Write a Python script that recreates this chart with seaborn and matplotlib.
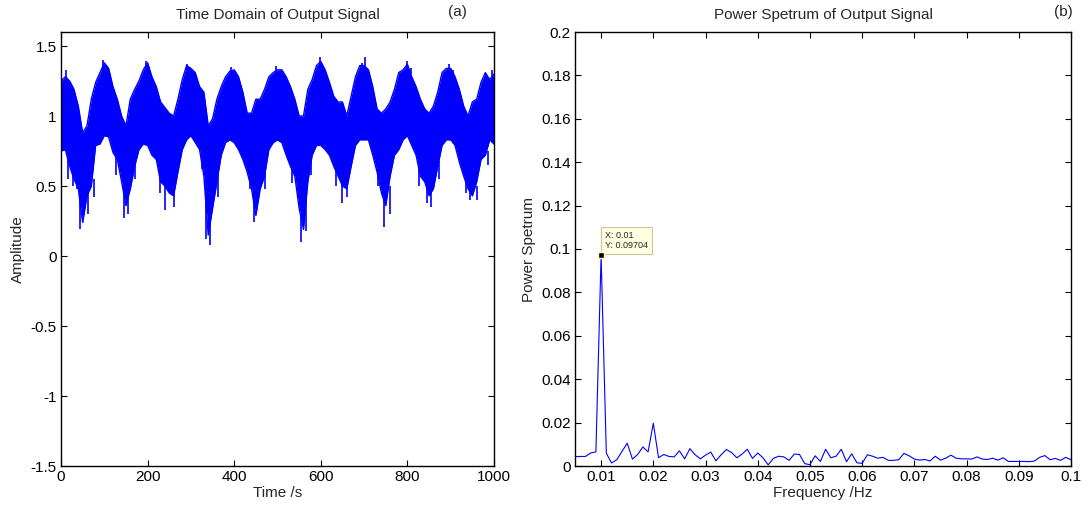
import numpy as np
import pandas as pd
import matplotlib
matplotlib.use("Agg")
import matplotlib.pyplot as plt
import seaborn as sns

# ── Data ───────────────────────────────────────────────────────
# (a) time signal: upper / lower envelope of the dense trace, every 10 s
time_s = np.arange(0, 1001, 10)
upper = [1.25, 1.28, 1.25, 1.19, 1.07, 0.88, 0.93, 1.12, 1.24, 1.31,
         1.38, 1.34, 1.21, 1.12, 1.00, 0.93, 1.12, 1.19, 1.25, 1.33,
         1.38, 1.28, 1.21, 1.10, 1.06, 1.02, 1.00, 1.12, 1.26, 1.36,
         1.34, 1.31, 1.21, 1.17, 0.93, 0.98, 1.12, 1.21, 1.28, 1.32,
         1.33, 1.28, 1.17, 1.02, 1.02, 1.12, 1.12, 1.19, 1.28, 1.31,
         1.33, 1.33, 1.28, 1.21, 1.12, 1.00, 1.00, 1.19, 1.26, 1.36,
         1.39, 1.33, 1.24, 1.14, 1.10, 1.10, 1.00, 1.14, 1.28, 1.36,
         1.36, 1.33, 1.21, 1.05, 1.02, 1.05, 1.10, 1.19, 1.31, 1.33,
         1.37, 1.28, 1.21, 1.12, 1.05, 1.02, 1.07, 1.17, 1.31, 1.34,
         1.34, 1.28, 1.19, 1.07, 1.00, 1.10, 1.12, 1.24, 1.31, 1.26, 1.30]
lower = [0.75, 0.76, 0.64, 0.55, 0.48, 0.24, 0.43, 0.50, 0.79, 0.80,
         0.86, 0.85, 0.74, 0.69, 0.53, 0.36, 0.48, 0.64, 0.76, 0.80,
         0.79, 0.72, 0.69, 0.53, 0.50, 0.45, 0.43, 0.60, 0.76, 0.83,
         0.86, 0.81, 0.76, 0.57, 0.15, 0.34, 0.53, 0.72, 0.81, 0.83,
         0.81, 0.76, 0.69, 0.60, 0.48, 0.29, 0.48, 0.57, 0.76, 0.81,
         0.83, 0.81, 0.72, 0.64, 0.57, 0.34, 0.19, 0.53, 0.72, 0.79,
         0.79, 0.76, 0.72, 0.64, 0.57, 0.50, 0.48, 0.64, 0.79, 0.83,
         0.83, 0.83, 0.72, 0.60, 0.45, 0.36, 0.57, 0.72, 0.76, 0.83,
         0.86, 0.79, 0.72, 0.57, 0.53, 0.43, 0.48, 0.64, 0.79, 0.83,
         0.83, 0.79, 0.67, 0.57, 0.48, 0.43, 0.53, 0.69, 0.72, 0.83, 0.80]

# isolated spikes sticking out of the band (time, start, tip)
spike_t = [0, 17, 27, 36, 45, 62, 76, 128, 145, 155, 172, 228, 240, 262,
           325, 335, 343, 362, 436, 445, 470, 534, 555, 565, 578, 636, 650,
           660, 733, 745, 760, 826, 845, 855, 872, 935, 945, 960, 985,
           12, 98, 104, 197, 203, 292, 298, 393, 497, 505, 598, 604, 695,
           703, 800, 808, 897, 905, 995]
spike_from = [1.20, 0.70, 0.70, 0.60, 0.50, 0.50, 0.55, 0.72, 0.50, 0.50,
              0.70, 0.60, 0.55, 0.50, 0.75, 0.50, 0.30, 0.60, 0.65, 0.45,
              0.62, 0.68, 0.30, 0.40, 0.70, 0.68, 0.55, 0.50, 0.65, 0.40,
              0.50, 0.65, 0.50, 0.50, 0.68, 0.62, 0.50, 0.50, 0.75,
              1.25, 1.30, 1.30, 1.30, 1.30, 1.30, 1.30, 1.30, 1.30, 1.30,
              1.30, 1.30, 1.30, 1.30, 1.30, 1.30, 1.30, 1.30, 1.22]
spike_to = [-0.15, 0.55, 0.50, 0.48, 0.19, 0.30, 0.42, 0.58, 0.27, 0.30,
            0.55, 0.45, 0.33, 0.35, 0.62, 0.12, 0.08, 0.42, 0.48, 0.24,
            0.48, 0.52, 0.10, 0.18, 0.58, 0.50, 0.38, 0.42, 0.50, 0.21,
            0.30, 0.50, 0.38, 0.35, 0.55, 0.45, 0.40, 0.40, 0.65,
            1.33, 1.40, 1.36, 1.39, 1.35, 1.37, 1.33, 1.35, 1.36, 1.32,
            1.42, 1.36, 1.38, 1.42, 1.39, 1.34, 1.37, 1.33, 1.33]

# (b) power spectrum, 0.005 .. 0.100 Hz in 0.001 Hz steps
freq_hz = np.arange(5, 101) / 1000
power = [0.0043, 0.0044, 0.0044, 0.0060, 0.0065, 0.09704, 0.0059, 0.0014,
         0.0029, 0.0067, 0.0105, 0.0032, 0.0053, 0.0088, 0.0065, 0.0197,
         0.0038, 0.0053, 0.0044, 0.0042, 0.0070, 0.0033, 0.0080, 0.0052,
         0.0033, 0.0050, 0.0064, 0.0024, 0.0052, 0.0076, 0.0062, 0.0038,
         0.0055, 0.0077, 0.0035, 0.0060, 0.0038, 0.0005, 0.0035, 0.0045,
         0.0042, 0.0026, 0.0055, 0.0053, 0.0011, 0.0006, 0.0047, 0.0021,
         0.0077, 0.0038, 0.0045, 0.0077, 0.0020, 0.0056, 0.0015, 0.0012,
         0.0052, 0.0045, 0.0036, 0.0040, 0.0026, 0.0026, 0.0029, 0.0058,
         0.0047, 0.0032, 0.0027, 0.0030, 0.0023, 0.0045, 0.0027, 0.0036,
         0.0050, 0.0036, 0.0033, 0.0033, 0.0032, 0.0042, 0.0032, 0.0030,
         0.0036, 0.0027, 0.0038, 0.0021, 0.0021, 0.0021, 0.0021, 0.0020,
         0.0023, 0.0040, 0.0048, 0.0029, 0.0035, 0.0026, 0.0040, 0.0029]

time_ticks = [0, 200, 400, 600, 800, 1000]
amp_ticks = [-1.5, -1, -0.5, 0, 0.5, 1, 1.5]
amp_labels = ["-1.5", "-1", "-0.5", "0", "0.5", "1", "1.5"]
freq_ticks = [0.01, 0.02, 0.03, 0.04, 0.05, 0.06, 0.07, 0.08, 0.09, 0.1]
freq_labels = ["0.01", "0.02", "0.03", "0.04", "0.05", "0.06", "0.07", "0.08", "0.09", "0.1"]
pow_ticks = [0, 0.02, 0.04, 0.06, 0.08, 0.1, 0.12, 0.14, 0.16, 0.18, 0.2]
pow_labels = ["0", "0.02", "0.04", "0.06", "0.08", "0.1", "0.12", "0.14", "0.16", "0.18", "0.2"]

# ── Style ──────────────────────────────────────────────────────
sns.set_theme(style="ticks")
plt.rcParams['font.family'] = ['Liberation Sans', 'DejaVu Sans']
plt.rcParams['axes.edgecolor'] = 'black'
plt.rcParams['axes.linewidth'] = 1.0

fig = plt.figure(figsize=(10.83, 5.08), dpi=100)
ax1 = fig.add_axes([61 / 1083, 42 / 508, 433 / 1083, 434 / 508])
ax2 = fig.add_axes([575 / 1083, 42 / 508, 496 / 1083, 434 / 508])

# ── (a) Time domain ────────────────────────────────────────────
ax1.fill_between(time_s, lower, upper, color="blue", lw=0)
sig = pd.DataFrame({"t": time_s, "hi": upper, "lo": lower})
sns.lineplot(data=sig, x="t", y="hi", ax=ax1, color="blue", lw=1.0)
sns.lineplot(data=sig, x="t", y="lo", ax=ax1, color="blue", lw=1.0)
ax1.vlines(spike_t, spike_from, spike_to, color="blue", lw=1.2)

ax1.set_xlim(0, 1000)
ax1.set_ylim(-1.5, 1.6)
ax1.set_xticks(time_ticks)
ax1.set_yticks(amp_ticks)
ax1.set_yticklabels(amp_labels)
ax1.set_xlabel("Time /s", fontsize=11, labelpad=1)
ax1.set_ylabel("Amplitude", fontsize=11, labelpad=4)
ax1.set_title("Time Domain of Output Signal", fontsize=11, pad=9)
ax1.text(0.915, 1.03, "(a)", transform=ax1.transAxes, fontsize=11,
         ha="center", va="bottom")

# ── (b) Power spectrum ─────────────────────────────────────────
spec = pd.DataFrame({"f": freq_hz, "p": power})
sns.lineplot(data=spec, x="f", y="p", ax=ax2, color="blue", lw=0.8)

peak = int(np.argmax(power))
pf, pp = freq_hz[peak], power[peak]
ax2.plot(pf, pp, marker="s", ms=5, mfc="black", mec="#fff8c0", mew=1, zorder=5)
ax2.annotate(f"X: {pf:g}\nY: {pp:g}", xy=(pf, pp), xytext=(3, 4),
             textcoords="offset points", fontsize=6.5, ha="left", va="bottom",
             linespacing=1.1,
             bbox=dict(boxstyle="square,pad=0.45", fc="#ffffe1", ec="#c8c8a0", lw=0.8))

ax2.set_xlim(0.005, 0.1)
ax2.set_ylim(0, 0.2)
ax2.set_xticks(freq_ticks)
ax2.set_xticklabels(freq_labels)
ax2.set_yticks(pow_ticks)
ax2.set_yticklabels(pow_labels)
ax2.set_xlabel("Frequency /Hz", fontsize=11, labelpad=1)
ax2.set_ylabel("Power Spetrum", fontsize=11, labelpad=4)
ax2.set_title("Power Spetrum of Output Signal", fontsize=11, pad=9)
ax2.text(0.985, 1.03, "(b)", transform=ax2.transAxes, fontsize=11,
         ha="center", va="bottom")

for ax in (ax1, ax2):
    ax.tick_params(direction="in", top=True, right=True, length=4, width=0.8,
                   labelsize=11, colors="black", pad=3)
    for s in ax.spines.values():
        s.set_visible(True)
        s.set_color("black")

fig.savefig("out.png", dpi=100)
